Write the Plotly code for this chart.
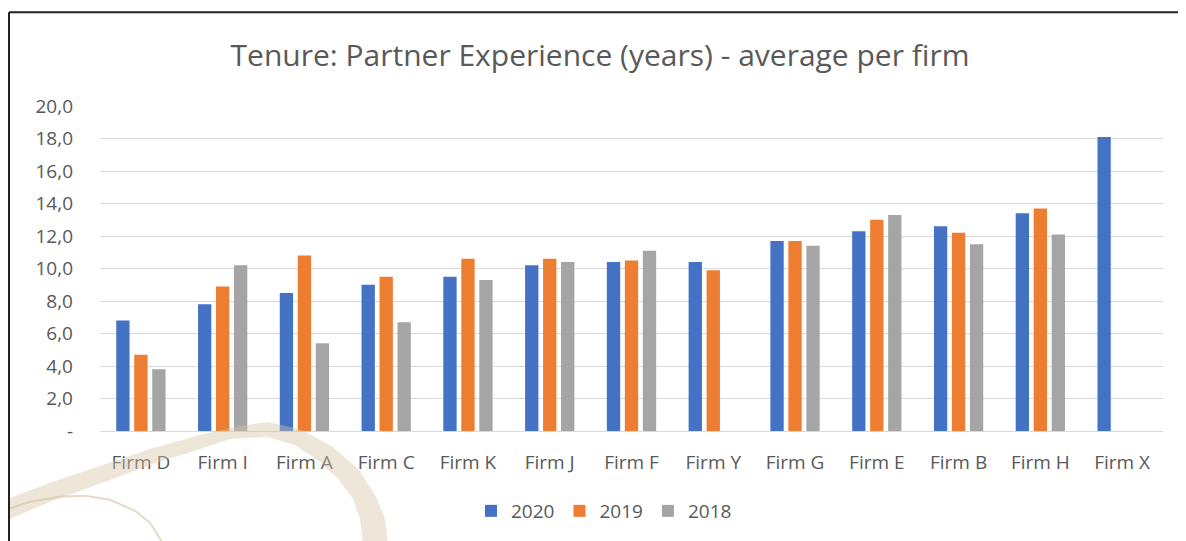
import plotly.graph_objects as go

firms = ["Firm D", "Firm I", "Firm A", "Firm C", "Firm K", "Firm J", "Firm F",
         "Firm Y", "Firm G", "Firm E", "Firm B", "Firm H", "Firm X"]
y2020 = [6.8, 7.8, 8.5, 9.0, 9.5, 10.2, 10.4, 10.4, 11.7, 12.3, 12.6, 13.4, 18.1]
y2019 = [4.7, 8.9, 10.8, 9.5, 10.6, 10.6, 10.5, 9.9, 11.7, 13.0, 12.2, 13.7, None]
y2018 = [3.8, 10.2, 5.4, 6.7, 9.3, 10.4, 11.1, None, 11.4, 13.3, 11.5, 12.1, None]
tick_vals = [0, 2, 4, 6, 8, 10, 12, 14, 16, 18, 20]
tick_text = ["-", "2,0", "4,0", "6,0", "8,0", "10,0", "12,0", "14,0", "16,0", "18,0", "20,0"]

FONT = "Open Sans"
TXT = "#595959"

fig = go.Figure()
for name, vals, col in [("2020", y2020, "#4472C4"),
                        ("2019", y2019, "#ED7D31"),
                        ("2018", y2018, "#A5A5A5")]:
    fig.add_trace(go.Bar(x=firms, y=vals, name=name, marker_color=col,
                         marker_line_width=0))

# page body has an 8px margin: figure coords = screen coords - 8
OFF = 8
W, H = 1178, 533
L, R, T, B = 92, 23, 98, 109
pw, ph = W - L - R, H - T - B


def px(x):  # screen x -> paper
    return (x - OFF - L) / pw


def py(y):  # screen y -> paper
    return (H - B - (y - OFF)) / ph


def path(pts, close=True):
    s = "M " + " L ".join(f"{px(x):.4f},{py(y):.4f}" for x, y in pts)
    return s + (" Z" if close else "")


# decorative swoosh (background artwork), in screen coordinates
outer = [(8, 500), (50, 484), (100, 467), (150, 450), (200, 436), (240, 427),
         (267, 423), (300, 430), (333, 448), (360, 472), (377, 500), (385, 520), (388, 545)]
inner = [(363, 545), (360, 520), (353, 500), (338, 480), (320, 463), (295, 446),
         (267, 438), (230, 440), (200, 450), (150, 466), (100, 485), (50, 503), (8, 521)]
shapes = [
    dict(type="path", xref="paper", yref="paper", path=path(outer + inner),
         fillcolor="rgb(214,196,163)", opacity=0.42, line_width=0, layer="above"),
    dict(type="path", xref="paper", yref="paper",
         path=path([(9, 510), (30, 503), (60, 498), (85, 497), (110, 501), (135, 512),
                    (150, 524), (163, 545)], close=False),
         line=dict(color="rgb(214,196,163)", width=2), opacity=0.6, layer="above"),
    # frame
    dict(type="line", xref="paper", yref="paper", x0=px(9), x1=px(1190), y0=py(12), y1=py(12),
         line=dict(color="#222222", width=2)),
    dict(type="line", xref="paper", yref="paper", x0=px(9), x1=px(9), y0=py(12), y1=py(545),
         line=dict(color="#222222", width=2)),
]

fig.update_layout(
    width=W, height=H,
    margin=dict(l=L, r=R, t=T, b=B),
    paper_bgcolor="white", plot_bgcolor="white",
    barmode="group", bargap=0.34, bargroupgap=0.26,
    font=dict(family=FONT, color=TXT, size=19),
    title=dict(text="Tenure: Partner Experience (years) - average per firm",
               x=(600 - OFF) / W, xanchor="center", y=1 - (55 - OFF) / H, yanchor="middle",
               xref="container", yref="container",
               font=dict(family=FONT, size=30, color=TXT)),
    xaxis=dict(showgrid=False, showline=False, ticks="", ticklabelstandoff=18,
               tickfont=dict(size=19, color=TXT)),
    yaxis=dict(range=[0, 20], tickvals=tick_vals, ticktext=tick_text,
               showgrid=True, gridcolor="#D9D9D9", gridwidth=1,
               zeroline=True, zerolinecolor="#D9D9D9", zerolinewidth=1,
               showline=False, ticks="", ticklabelstandoff=26,
               tickfont=dict(size=19, color=TXT)),
    legend=dict(orientation="h", x=px(604), xanchor="center", y=py(511), yanchor="middle",
                font=dict(size=19, color=TXT), itemwidth=30, traceorder="normal"),
    shapes=shapes,
    showlegend=True,
)

fig.write_html("out.html")
